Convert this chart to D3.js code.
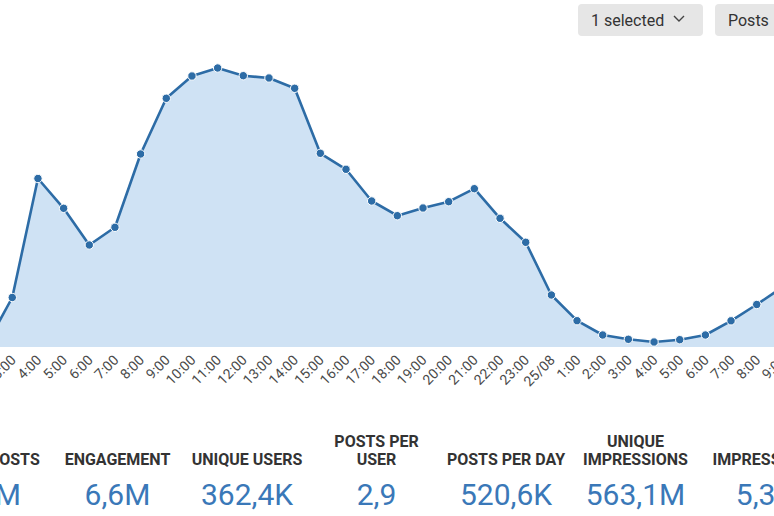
<!DOCTYPE html>
<html>
<head>
<meta charset="utf-8">
<script src="https://cdn.jsdelivr.net/npm/d3@7"></script>
<style>
  html, body { margin: 0; padding: 0; background: #fff; }
  svg { display: block; }
</style>
</head>
<body>
<svg id="chart" width="774" height="516"></svg>
<script>
// ---- data ----
const categories = ["2:00","3:00","4:00","5:00","6:00","7:00","8:00","9:00","10:00","11:00","12:00","13:00","14:00","15:00","16:00","17:00","18:00","19:00","20:00","21:00","22:00","23:00","25/08","1:00","2:00","3:00","4:00","5:00","6:00","7:00","8:00","9:00"];
const postValues = [240,4950,16850,13870,10200,11970,19300,24870,27100,27900,27130,26900,25870,19370,17770,14600,13130,13900,14530,15830,12870,10470,5200,2630,1200,770,500,730,1200,2620,4250,5970];
const statLabels = [["TOTAL POSTS"],["ENGAGEMENT"],["UNIQUE USERS"],["POSTS PER","USER"],["POSTS PER DAY"],["UNIQUE","IMPRESSIONS"],["IMPRESSIONS"]];
const statValues = ["1,1M","6,6M","362,4K","2,9","520,6K","563,1M","5,3B"];
const buttonLabels = ["1 selected","Posts"];

// ---- chart ----
const svg = d3.select("#chart");
const font = "Roboto, 'Helvetica Neue', Arial, sans-serif";

const x = d3.scaleLinear().domain([0, categories.length - 1]).range([-13.4, 782.4]);
const y = d3.scaleLinear().domain([0, 30000]).range([347, 47]);

const lineColor = "#2d6ca6";
const fillColor = "#cfe2f4";

const area = d3.area().x((d, i) => x(i)).y0(y(0)).y1(d => y(d));
const line = d3.line().x((d, i) => x(i)).y(d => y(d));

svg.append("path").datum(postValues).attr("d", area).attr("fill", fillColor);
svg.append("path").datum(postValues).attr("d", line)
  .attr("fill", "none").attr("stroke", lineColor).attr("stroke-width", 2.6)
  .attr("stroke-linejoin", "round");
svg.append("g").selectAll("circle").data(postValues).join("circle")
  .attr("cx", (d, i) => x(i)).attr("cy", d => y(d)).attr("r", 4.2)
  .attr("fill", lineColor).attr("stroke", "#fff").attr("stroke-width", 1);

// x axis
const axis = d3.axisBottom(x)
  .tickValues(d3.range(categories.length))
  .tickFormat(i => categories[i])
  .tickSize(0).tickPadding(0);
const gx = svg.append("g").attr("transform", `translate(0,${y(0)})`).call(axis);
gx.select(".domain").remove();
gx.selectAll(".tick text")
  .attr("font-family", font).attr("font-size", 14).attr("fill", "#4a4a4a")
  .attr("text-anchor", "end").attr("dy", 0).attr("y", 0)
  .attr("transform", "translate(4,14) rotate(-45)");

// buttons
const btns = [{x: 578, w: 125}, {x: 715, w: 80}];
btns.forEach((b, i) => {
  const g = svg.append("g");
  g.append("rect").attr("x", b.x).attr("y", 4).attr("width", b.w).attr("height", 32)
    .attr("rx", 4).attr("fill", "#e6e6e6");
  g.append("text").attr("x", b.x + 13).attr("y", 25.5)
    .attr("font-family", font).attr("font-size", 16).attr("fill", "#333")
    .text(buttonLabels[i]);
  if (i === 0) {
    g.append("path").attr("d", `M${b.x+96},16 l5,5 l5,-5`)
      .attr("fill", "none").attr("stroke", "#444").attr("stroke-width", 1.4);
  }
});

// stats
const colX = d3.scaleLinear().domain([0, 6]).range([-12, 765]);
const stats = svg.append("g");
statLabels.forEach((lines, i) => {
  const cx = colX(i);
  const t = stats.append("text").attr("text-anchor", "middle")
    .attr("font-family", font).attr("font-size", 16).attr("font-weight", "bold").attr("fill", "#333");
  lines.forEach((ln, j) => {
    t.append("tspan").attr("x", cx).attr("y", 465 - (lines.length - 1 - j) * 18).text(ln);
  });
  stats.append("text").attr("x", cx).attr("y", 505).attr("text-anchor", "middle")
    .attr("font-family", font).attr("font-size", 30).attr("fill", "#3a78b8")
    .text(statValues[i]);
});
</script>
</body>
</html>
